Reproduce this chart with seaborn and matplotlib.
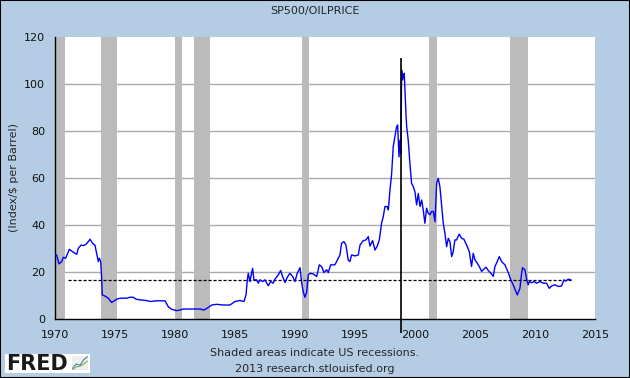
import numpy as np
import pandas as pd
import matplotlib
matplotlib.use("Agg")
import matplotlib.pyplot as plt
import seaborn as sns

# Ratio of S&P 500 index to oil price
years = [
    1970.00, 1970.14, 1970.33, 1970.56, 1970.69, 1970.89, 1971.19, 1971.47, 1971.67, 1971.81,
    1971.94, 1972.17, 1972.36, 1972.58, 1972.78, 1972.92, 1973.14, 1973.33, 1973.47, 1973.61,
    1973.69, 1973.81, 1973.89, 1973.94, 1974.17, 1974.44, 1974.72, 1974.86, 1975.14, 1975.42,
    1975.97, 1976.25, 1976.53, 1976.75, 1977.08, 1977.64, 1977.92, 1978.47, 1978.75, 1979.17,
    1979.44, 1979.72, 1980.14, 1980.42, 1980.69, 1981.25, 1982.08, 1982.42, 1982.78, 1983.06,
    1983.47, 1984.03, 1984.58, 1985.00, 1985.42, 1985.75, 1985.92, 1986.03, 1986.11, 1986.25,
    1986.39, 1986.47, 1986.58, 1986.81, 1986.94, 1987.08, 1987.31, 1987.50, 1987.78, 1987.97,
    1988.19, 1988.33, 1988.61, 1988.81, 1988.97, 1989.17, 1989.36, 1989.58, 1989.81, 1990.00,
    1990.19, 1990.42, 1990.56, 1990.69, 1990.83, 1990.97, 1991.11, 1991.25, 1991.53, 1991.81,
    1992.03, 1992.22, 1992.42, 1992.64, 1992.78, 1992.97, 1993.33, 1993.53, 1993.75, 1993.89,
    1994.08, 1994.25, 1994.44, 1994.58, 1994.72, 1995.00, 1995.28, 1995.42, 1995.69, 1995.92,
    1996.11, 1996.25, 1996.47, 1996.67, 1996.86, 1997.03, 1997.22, 1997.36, 1997.50, 1997.69,
    1997.78, 1997.92, 1998.06, 1998.19, 1998.33, 1998.47, 1998.56, 1998.67, 1998.75, 1998.83,
    1998.89, 1998.97, 1999.06, 1999.11, 1999.17, 1999.25, 1999.31, 1999.44, 1999.58, 1999.72,
    1999.86, 2000.00, 2000.14, 2000.28, 2000.42, 2000.56, 2000.69, 2000.83, 2000.97, 2001.11,
    2001.25, 2001.39, 2001.53, 2001.67, 2001.81, 2001.94, 2002.08, 2002.36, 2002.50, 2002.64,
    2002.78, 2002.92, 2003.06, 2003.19, 2003.33, 2003.47, 2003.69, 2003.89, 2004.08, 2004.31,
    2004.53, 2004.72, 2004.86, 2005.00, 2005.19, 2005.36, 2005.56, 2005.69, 2005.92, 2006.11,
    2006.31, 2006.53, 2006.67, 2006.86, 2007.03, 2007.22, 2007.50, 2007.78, 2007.97, 2008.19,
    2008.42, 2008.53, 2008.75, 2008.89, 2008.97, 2009.17, 2009.31, 2009.44, 2009.53, 2009.72,
    2009.92, 2010.14, 2010.42, 2010.69, 2010.97, 2011.19, 2011.39, 2011.67, 2011.94, 2012.22,
    2012.42, 2012.58, 2012.78, 2013.00,
]
ratio = [
    27.1, 27.1, 23.3, 24.3, 26.1, 25.7, 29.5, 28.5, 27.8, 27.4,
    29.9, 31.3, 31.1, 31.6, 32.8, 33.8, 32.0, 31.3, 27.8, 24.3,
    25.7, 24.3, 17.2, 10.1, 9.6, 8.7, 6.9, 7.3, 8.3, 8.7,
    8.7, 9.1, 9.1, 8.3, 8.0, 7.7, 7.3, 7.6, 7.6, 7.6,
    5.1, 4.0, 3.4, 3.7, 4.1, 4.1, 4.1, 3.7, 4.8, 5.8,
    6.1, 5.8, 5.8, 7.3, 7.7, 7.3, 10.1, 16.5, 19.3, 15.8,
    19.6, 21.4, 16.5, 16.5, 15.1, 16.5, 15.8, 16.5, 14.0, 15.8,
    15.1, 16.8, 18.6, 20.5, 17.9, 15.4, 17.6, 19.3, 17.9, 15.8,
    19.3, 21.7, 15.1, 11.5, 9.1, 11.1, 18.6, 19.3, 19.0, 17.9,
    22.9, 22.2, 19.6, 20.8, 19.6, 22.9, 22.9, 24.9, 27.1, 32.1,
    32.8, 31.3, 24.9, 24.3, 27.1, 26.7, 27.1, 31.3, 33.2, 33.5,
    34.9, 30.9, 33.2, 29.2, 30.9, 33.5, 40.6, 43.4, 47.7, 47.7,
    46.3, 54.7, 61.8, 73.2, 77.4, 81.7, 82.4, 68.9, 76.0, 70.3,
    105.8, 101.6, 103.7, 104.4, 96.6, 87.4, 81.7, 76.0, 66.1, 57.6,
    56.2, 54.0, 48.4, 53.3, 47.7, 50.5, 46.3, 40.6, 47.0, 44.9,
    44.2, 45.6, 45.6, 41.3, 57.6, 59.7, 56.2, 40.6, 36.3, 30.6,
    34.2, 32.7, 26.4, 28.5, 33.5, 33.5, 36.0, 34.2, 33.8, 31.3,
    28.5, 22.2, 27.8, 25.0, 23.6, 22.2, 20.1, 20.8, 21.9, 20.5,
    19.4, 18.0, 22.2, 24.3, 26.4, 24.3, 22.9, 19.6, 16.8, 14.4,
    11.5, 10.1, 12.9, 19.3, 21.7, 20.7, 16.8, 14.4, 15.8, 15.3,
    15.8, 15.1, 15.8, 15.1, 15.1, 12.9, 13.9, 14.4, 13.7, 13.9,
    16.5, 16.0, 16.8, 16.5,
]

# US recessions (start, end) as decimal years
recessions = [
    (1969.92, 1970.85), (1973.85, 1975.20), (1980.00, 1980.55),
    (1981.55, 1982.88), (1990.55, 1991.20), (2001.20, 2001.88),
    (2007.92, 2009.45),
]

ref_level = 16.3          # dashed reference line
ref_span = (1971.06, 2013.05)
marker_year = 1998.87     # vertical marker
marker_span = (-6.2, 111.0)

x_ticks = list(range(1970, 2016, 5))
y_ticks = [0, 20, 40, 60, 80, 100, 120]

bg = '#B4CDE4'

sns.set_style('white')
plt.rcParams.update({
    'font.family': ['DejaVu Sans'],
    'font.size': 8,
    'xtick.labelsize': 8,
    'ytick.labelsize': 8,
})

df = pd.DataFrame({'year': years, 'ratio': ratio})

fig = plt.figure(figsize=(6.3, 3.78), dpi=100, facecolor=bg)
ax = fig.add_axes([0.0873, 0.157, 0.857, 0.746])
ax.set_facecolor('white')

for start, end in recessions:
    ax.axvspan(max(start, 1970), end, color='#BBBBBB', lw=0, zorder=1)

for v in y_ticks[1:-1]:
    ax.axhline(v, color='#AAAAAA', lw=1, zorder=0.5)

ax.hlines(ref_level, ref_span[0], ref_span[1], colors='black',
          linestyles=(0, (2.5, 1.5)), lw=0.9, zorder=3)

sns.lineplot(data=df, x='year', y='ratio', ax=ax, color='#0000FF',
             lw=1, zorder=4)

ax.vlines(marker_year, marker_span[0], marker_span[1], colors='black',
          lw=1.2, zorder=5, clip_on=False)

ax.set_xlim(1970, 2015)
ax.set_ylim(0, 120)
ax.set_xticks(x_ticks)
ax.set_yticks(y_ticks)
ax.set_xlabel('')
ax.set_ylabel('(Index/$ per Barrel)', fontsize=8, labelpad=4)

for side in ['top', 'right']:
    ax.spines[side].set_visible(False)
for side in ['left', 'bottom']:
    ax.spines[side].set_color('black')
    ax.spines[side].set_linewidth(1)
ax.tick_params(axis='both', direction='out', length=6, width=1,
               color='black', labelcolor='#111111', pad=2)
ax.tick_params(axis='y', length=5)

fig.text(0.5, 0.972, 'SP500/OILPRICE', ha='center', va='center', fontsize=8)
fig.text(0.5, 0.066, 'Shaded areas indicate US recessions.', ha='center',
         va='center', fontsize=8)
fig.text(0.5, 0.024, '2013 research.stlouisfed.org', ha='center',
         va='center', fontsize=8)

# FRED logo box
fig.patches.append(plt.Rectangle((0.008, 0.012), 0.135, 0.052,
                                 transform=fig.transFigure, facecolor='white',
                                 edgecolor='none', zorder=1))
fig.text(0.010, 0.038, 'FRED', ha='left', va='center', fontsize=15,
         fontweight='bold', color='#1a1a1a', zorder=2)
icon = fig.add_axes([0.114, 0.020, 0.026, 0.038], zorder=3)
icon.plot([0, 1, 2, 3, 4], [0.2, 0.5, 0.4, 0.8, 1.0], color='#4a7fb0', lw=0.8)
icon.plot([0, 1, 2, 3, 4], [0.1, 0.3, 0.35, 0.5, 0.7], color='#7ab04a', lw=0.8)
icon.set_facecolor('#eeeeee')
icon.set_xticks([])
icon.set_yticks([])
for s in icon.spines.values():
    s.set_visible(False)

# thin outer frame
fig.patches.append(plt.Rectangle((0, 0), 1, 1, transform=fig.transFigure,
                                 fill=False, edgecolor='black', lw=1.5))

fig.savefig('out.png', dpi=100, facecolor=bg)
